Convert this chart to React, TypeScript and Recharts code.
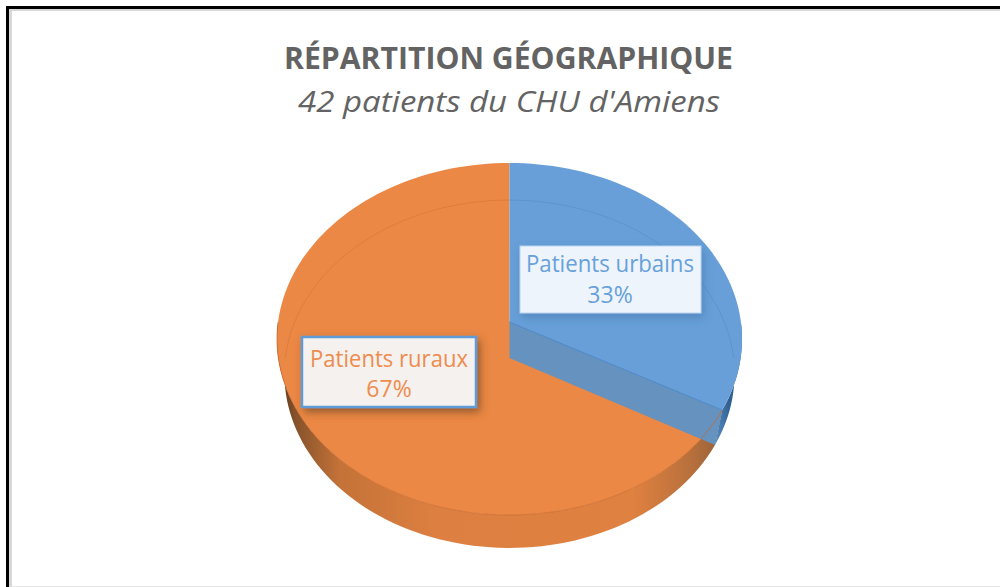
import { PieChart, Pie } from "recharts";

const categories = ["Patients ruraux", "Patients urbains"];
const shares = [67, 33];
const title = "RÉPARTITION GÉOGRAPHIQUE";
const subtitle = "42 patients du CHU d'Amiens";

const data = categories.map((name, i) => ({ name, value: shares[i] }));

// the disc is drawn as a perspective view: two ellipses, the vertex sits off centre
const TOP = { dy: 0, rx: 1, ry: 0.757, k: 0.0966 };
const LOW = { dy: 35, rx: 0.968, ry: 0.748, k: 0.092 };
const RAD = Math.PI / 180;
const START = 90 - (360 * shares[1]) / 100;

const BLUE = "#689FD8";
const ORANGE = "#EC8845";
const FONT = '"Open Sans", "Noto Sans", sans-serif';

const labelBox: Record<string, any> = {
  "Patients ruraux": { x: 302, y: 337, w: 174, h: 70, tx: 389, len: 158, y1: 367, y2: 397, color: "#EE8C4E", fill: "#F5F1EE", border: "#5E9BD6", bw: 2.5 },
  "Patients urbains": { x: 520, y: 246, w: 181, h: 67, tx: 610, len: 168, y1: 272, y2: 303, color: "#67A1DA", fill: "#EEF4FB", border: "#B9D3EE", bw: 1 },
};

function rimPoint(e: any, a: number, cx: number, cy: number, r: number) {
  const u = Math.cos(a * RAD);
  const v = Math.sin(a * RAD);
  const d = 1 + e.k * v;
  const px = (u * Math.sqrt(1 - e.k * e.k)) / d;
  const py = (v + e.k) / d;
  return [cx + r * e.rx * px, cy + e.dy - r * e.ry * py];
}

function rim(e: any, from: number, to: number, cx: number, cy: number, r: number) {
  const steps = Math.max(2, Math.ceil(Math.abs(to - from) / 2));
  const pts = [];
  for (let i = 0; i <= steps; i++) {
    const p = rimPoint(e, from + ((to - from) * i) / steps, cx, cy, r);
    pts.push(p[0].toFixed(2) + " " + p[1].toFixed(2));
  }
  return pts.join(" L ");
}

function Slice(props: any) {
  const { cx, cy, outerRadius: r, startAngle, endAngle, name } = props;
  const urban = name === categories[1];
  const vTop = [cx, cy - r * TOP.ry * TOP.k];
  const vLow = [cx, cy + LOW.dy - r * LOW.ry * LOW.k];
  const wedge = `M ${vTop[0]} ${vTop[1]} L ${rim(TOP, startAngle, endAngle, cx, cy, r)} Z`;
  const from = urban ? -360 : startAngle;
  const to = urban ? endAngle : -180;
  const wall = `M ${rim(TOP, from, to, cx, cy, r)} L ${rim(LOW, to, from, cx, cy, r)} Z`;
  const cut = rimPoint(TOP, endAngle, cx, cy, r);
  const cutLow = rimPoint(LOW, endAngle, cx, cy, r);
  const gradId = urban ? "wallBlue" : "wallOrange";
  return (
    <g>
      <defs>
        <linearGradient id="wallOrange" x1="0" y1="0" x2="1" y2="0">
          <stop offset="0" stopColor="#4f3016" />
          <stop offset="0.04" stopColor="#85522a" />
          <stop offset="0.14" stopColor="#c47238" />
          <stop offset="0.35" stopColor="#dc7f40" />
          <stop offset="0.8" stopColor="#df8140" />
          <stop offset="0.93" stopColor="#b8703c" />
          <stop offset="1" stopColor="#96613a" />
        </linearGradient>
        <linearGradient id="wallBlue" x1="0" y1="1" x2="1" y2="0">
          <stop offset="0" stopColor="#5a8fc7" />
          <stop offset="0.45" stopColor="#2f5f8f" />
          <stop offset="1" stopColor="#3b72a8" />
        </linearGradient>
      </defs>
      <path d={wall} fill={`url(#${gradId})`} />
      <path d={wedge} fill={urban ? BLUE : ORANGE} />
      <path
        d={`M ${rim(LOW, 90, urban ? 0 : 180, cx, cy, r)}`}
        fill="none"
        stroke={urban ? "#4f8ac6" : "#c96f33"}
        strokeOpacity={urban ? 0.5 : 0.45}
        strokeWidth={1}
      />
      {urban && (
        <>
          <path
            d={`M ${vTop[0]} ${vTop[1]} L ${cut[0]} ${cut[1]} L ${cutLow[0]} ${cutLow[1]} L ${vLow[0]} ${vLow[1]} Z`}
            fill="#6592BE"
          />
          <path
            d={`M ${vTop[0]} ${vTop[1]} L ${cut[0]} ${cut[1]}`}
            stroke="#4a8acb"
            strokeWidth={1}
            fill="none"
          />
          <path
            d={`M ${rim(TOP, endAngle + 360, -180, cx, cy, r)}`}
            fill="none"
            stroke="#c8692c"
            strokeOpacity={0.75}
            strokeWidth={1}
          />
        </>
      )}
    </g>
  );
}

function BoxLabel(props: any) {
  const { name, percent } = props;
  const b = labelBox[name];
  return (
    <g>
      <rect
        x={b.x}
        y={b.y}
        width={b.w}
        height={b.h}
        fill={b.fill}
        stroke={b.border}
        strokeWidth={b.bw}
        filter={name === categories[0] ? "url(#shadowDark)" : "url(#shadowSoft)"}
      />
      <text x={b.tx} y={b.y1} textAnchor="middle" fontFamily={FONT} fontSize={23} fill={b.color} textLength={b.len} lengthAdjust="spacingAndGlyphs">
        {name}
      </text>
      <text x={b.tx} y={b.y2} textAnchor="middle" fontFamily={FONT} fontSize={23} fill={b.color}>
        {Math.round(percent * 100)}%
      </text>
    </g>
  );
}

export default function App() {
  return (
    <div style={{ position: "absolute", left: 0, top: 0, width: 1000, height: 587, overflow: "hidden", background: "#fff" }}>
      {/* frame of the screenshot: only top and left survive, with a grey shadow */}
      <div style={{ position: "absolute", left: 6, top: 6, width: 1000, height: 2.5, background: "#000" }} />
      <div style={{ position: "absolute", left: 6, top: 6, width: 3, height: 590, background: "#000" }} />
      <div style={{ position: "absolute", left: 9, top: 8.5, width: 1000, height: 2, background: "#d8d8d8" }} />
      <div style={{ position: "absolute", left: 9, top: 8.5, width: 2.5, height: 590, background: "#d8d8d8" }} />
      <div style={{ position: "absolute", left: 11, top: 585.5, width: 1000, height: 1.5, background: "#e6e6e6" }} />
      <div style={{ position: "absolute", left: 0, top: 0 }}>
        <PieChart width={1000} height={587} margin={{ top: 0, right: 0, bottom: 0, left: 0 }}>
          <defs>
            <filter id="shadowDark" x="-20%" y="-30%" width="140%" height="160%">
              <feDropShadow dx="3" dy="4" stdDeviation="4" floodColor="#5a3a20" floodOpacity="0.6" />
            </filter>
            <filter id="shadowSoft" x="-20%" y="-30%" width="140%" height="160%">
              <feDropShadow dx="2" dy="4" stdDeviation="5" floodColor="#2f5f95" floodOpacity="0.4" />
            </filter>
          </defs>
          <text x={508.5} y={69} textAnchor="middle" fontFamily={FONT} fontWeight={700} fontSize={31} fill="#636363" textLength={449} lengthAdjust="spacingAndGlyphs">
            {title}
          </text>
          <text x={509} y={112} textAnchor="middle" fontFamily={FONT} fontStyle="italic" fontSize={30} fill="#636363" textLength={422} lengthAdjust="spacingAndGlyphs">
            {subtitle}
          </text>
          <Pie
            data={data}
            dataKey="value"
            nameKey="name"
            cx={509.5}
            cy={339}
            outerRadius={232.5}
            startAngle={START}
            endAngle={START - 360}
            stroke="none"
            isAnimationActive={false}
            shape={Slice}
            inactiveShape={Slice}
            activeShape={Slice}
            label={BoxLabel}
            labelLine={false}
          />
        </PieChart>
      </div>
    </div>
  );
}
